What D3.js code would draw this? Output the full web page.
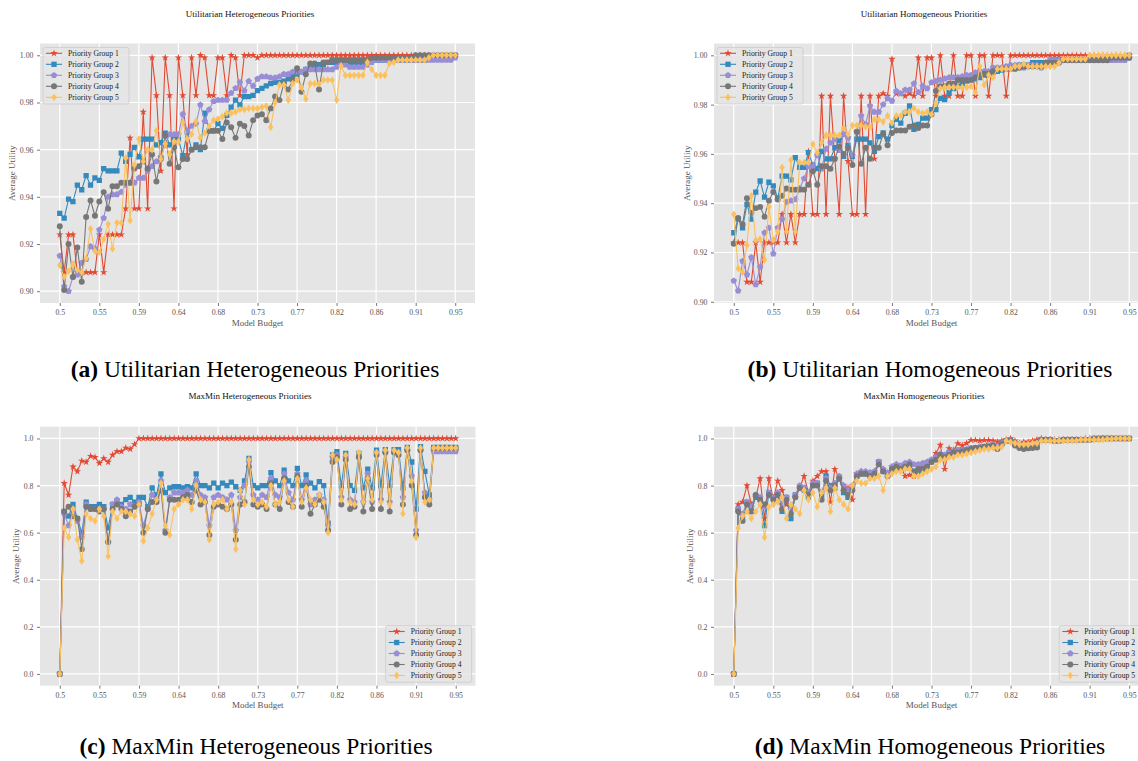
<!DOCTYPE html>
<html><head><meta charset="utf-8">
<script src="https://cdn.jsdelivr.net/npm/d3@7"></script>
<style>
body{margin:0;background:#fff;}
svg{display:block;font-family:"Liberation Serif","DejaVu Serif",serif;}
</style>
</head><body>
<svg id="chart" width="1138" height="761"></svg>
<script>
// ---------- data ----------
const budgets = d3.range(91).map(i => +(0.5 + i * 0.005).toFixed(3));
const groupNames = ["Priority Group 1","Priority Group 2","Priority Group 3","Priority Group 4","Priority Group 5"];
const xTickValues = [0.5,0.545,0.59,0.635,0.68,0.725,0.77,0.815,0.86,0.905,0.95];
const xTickLabels = ["0.5","0.55","0.59","0.64","0.68","0.73","0.77","0.82","0.86","0.91","0.95"];
const utilTicks = [0.90,0.92,0.94,0.96,0.98,1.00];
const maxminTicks = [0.0,0.2,0.4,0.6,0.8,1.0];

const utilHetG1 = [0.924,0.908,0.924,0.924,0.908,0.908,0.908,0.908,0.908,0.924,
 0.908,0.924,0.924,0.924,0.924,0.935,0.965,0.935,0.935,0.976,
 0.935,0.999,0.983,0.951,0.999,0.983,0.935,0.999,0.983,0.958,
 0.999,0.983,1.000,0.999,0.983,0.983,0.999,0.999,0.983,1.000,
 0.999,0.983,1.000,1.000,1.000,0.999,1.000,1.000,1.000,1.000,
 1,1,1,1,1,1,1,1,1,1, 1,1,1,1,1,1,1,1,1,1, 1,1,1,1,1,1,1,1,1,1, 1,1,1,1,1,1,1,1,1,1, 1];
const utilHetG2 = [0.933,0.931,0.939,0.938,0.945,0.943,0.949,0.945,0.948,0.947,
 0.952,0.951,0.951,0.951,0.9585,0.955,0.958,0.961,0.957,0.9645,
 0.9645,0.9645,0.962,0.963,0.967,0.962,0.9645,0.9645,0.9575,0.9675,
 0.960,0.962,0.960,0.9755,0.968,0.968,0.971,0.969,0.9745,0.978,
 0.981,0.979,0.9825,0.9825,0.983,0.985,0.986,0.987,0.988,0.9885,
 0.9885,0.989,0.990,0.991,0.992,0.993,0.994,0.995,0.995,0.996,
 0.996,0.997,0.997,0.997,0.997,0.997,0.997,0.997,0.997,0.997,
 0.997,0.998,0.998,0.998,0.998,0.998,0.998,0.998,0.998,0.998,
 0.998,0.998,0.998,0.998,0.999,0.999,0.999,0.999,0.999,0.999,
 1.000];
const utilHetG3 = [0.915,0.902,0.900,0.906,0.907,0.912,0.9135,0.919,0.918,0.926,
 0.931,0.940,0.941,0.941,0.942,0.945,0.946,0.946,0.948,0.948,
 0.951,0.953,0.955,0.957,0.962,0.9665,0.9665,0.9665,0.975,0.968,
 0.970,0.971,0.979,0.972,0.977,0.9805,0.981,0.981,0.981,0.984,
 0.986,0.9885,0.985,0.989,0.987,0.990,0.991,0.991,0.9905,0.9905,
 0.991,0.992,0.992,0.993,0.993,0.993,0.994,0.994,0.994,0.994,
 0.994,0.994,0.994,0.995,0.996,0.996,0.995,0.995,0.995,0.995,
 0.996,0.997,0.998,0.998,0.998,0.998,0.998,0.998,0.998,0.998,
 0.998,0.998,0.998,0.998,0.998,0.998,0.998,0.998,0.998,0.998,
 0.999];
const utilHetG4 = [0.9275,0.9005,0.920,0.906,0.9185,0.904,0.9315,0.9385,0.932,0.938,
 0.942,0.935,0.9445,0.9445,0.946,0.946,0.946,0.952,0.953,0.955,
 0.952,0.958,0.9465,0.956,0.966,0.954,0.961,0.9525,0.956,0.956,
 0.960,0.961,0.961,0.961,0.968,0.968,0.968,0.9645,0.9715,0.9695,
 0.965,0.971,0.970,0.966,0.9725,0.9745,0.975,0.9725,0.9775,0.9825,
 0.981,0.988,0.9855,0.9895,0.9945,0.9845,0.992,0.9965,0.9965,0.9855,
 0.997,0.997,0.998,0.998,0.998,0.998,0.998,0.998,0.998,0.998,
 0.998,0.999,0.999,0.999,0.999,0.999,0.999,0.999,0.999,0.999,
 0.999,1.000,1.000,1.000,1.000,1.000,1.000,1.000,1.000,1.000,
 1.000];
const utilHetG5 = [0.911,0.906,0.9085,0.9115,0.909,0.908,0.914,0.9265,0.917,0.9165,
 0.922,0.9285,0.918,0.929,0.929,0.9565,0.930,0.9535,0.9645,0.955,
 0.960,0.960,0.968,0.956,0.9625,0.958,0.9635,0.9635,0.9715,0.9645,
 0.9665,0.972,0.965,0.967,0.970,0.9725,0.973,0.974,0.9755,0.9755,
 0.976,0.977,0.977,0.9775,0.9775,0.9775,0.978,0.9785,0.9695,0.980,
 0.9875,0.9875,0.981,0.988,0.9895,0.9865,0.9815,0.988,0.988,0.988,
 0.9895,0.9895,0.9895,0.981,0.9955,0.9915,0.9915,0.9915,0.9915,0.9915,
 0.997,0.994,0.9915,0.9915,0.9915,0.9965,0.997,0.998,0.998,0.998,
 0.998,0.998,0.998,0.998,0.999,1.000,1.000,1.000,1.000,1.000,
 1.000];

const utilHomG1 = [0.924,0.924,0.924,0.908,0.908,0.924,0.908,0.924,0.924,0.924,
 0.924,0.9355,0.924,0.9355,0.924,0.9355,0.9355,0.961,0.9355,0.9355,
 0.9835,0.9355,0.9835,0.958,0.9355,0.9835,0.957,0.9355,0.9355,0.9835,
 0.9355,0.9835,0.958,0.9835,0.9845,0.9835,0.9985,0.9845,0.9845,0.9835,
 0.9845,0.9835,0.999,0.9835,0.999,0.999,0.9835,1.000,0.9835,0.9835,
 1.000,0.9835,0.9835,1.000,1.000,0.9835,1.000,1.000,0.9835,1.000,
 1.000,1.000,0.9835,1.000,1.000,1.000,1.000,1.000,1.000,1.000,
 1,1,1,1,1,1,1,1,1,1, 1,1,1,1,1,1,1,1,1,1, 1];
const utilHomG2 = [0.928,0.9335,0.930,0.9395,0.9335,0.9445,0.949,0.9425,0.9485,0.947,
 0.942,0.951,0.951,0.9495,0.9585,0.9545,0.9545,0.9605,0.9555,0.954,
 0.961,0.958,0.958,0.9625,0.9655,0.959,0.9635,0.959,0.966,0.966,
 0.966,0.9645,0.961,0.967,0.9685,0.966,0.9715,0.974,0.9725,0.9765,
 0.9795,0.970,0.972,0.9745,0.9745,0.978,0.978,0.9825,0.982,0.985,
 0.9865,0.9875,0.9885,0.9895,0.990,0.9905,0.991,0.992,0.9925,0.993,
 0.9935,0.994,0.995,0.995,0.995,0.996,0.996,0.996,0.997,0.997,
 0.997,0.997,0.997,0.998,0.998,0.998,0.998,0.998,0.998,0.998,
 0.998,0.998,0.998,0.998,0.999,0.999,0.999,0.999,0.999,0.999,
 1.000];
const utilHomG3 = [0.9085,0.9045,0.9165,0.911,0.918,0.907,0.914,0.928,0.930,0.9195,
 0.930,0.9335,0.9405,0.941,0.9415,0.946,0.950,0.955,0.955,0.9595,
 0.954,0.962,0.9645,0.966,0.9615,0.968,0.9665,0.9595,0.969,0.9755,
 0.972,0.9795,0.977,0.977,0.980,0.9825,0.9815,0.9855,0.9845,0.986,
 0.986,0.9885,0.985,0.9875,0.9865,0.989,0.9895,0.990,0.9905,0.991,
 0.991,0.991,0.9915,0.992,0.992,0.993,0.9935,0.9935,0.9935,0.995,
 0.995,0.995,0.9955,0.996,0.996,0.996,0.995,0.996,0.996,0.996,
 0.995,0.997,0.998,0.998,0.998,0.998,0.998,0.998,0.998,0.998,
 0.998,0.998,0.998,0.998,0.998,0.998,0.998,0.998,0.998,0.998,
 0.999];
const utilHomG4 = [0.9235,0.934,0.9315,0.942,0.936,0.938,0.9385,0.9345,0.941,0.9445,
 0.9415,0.943,0.946,0.9455,0.9455,0.9455,0.9455,0.9475,0.953,0.9475,
 0.955,0.955,0.954,0.958,0.963,0.960,0.9625,0.9555,0.969,0.956,
 0.9625,0.958,0.9625,0.9625,0.968,0.9635,0.9685,0.9695,0.9695,0.9695,
 0.971,0.9715,0.9705,0.9715,0.9715,0.976,0.9855,0.9875,0.9875,0.9885,
 0.9885,0.990,0.990,0.990,0.990,0.991,0.992,0.9925,0.9925,0.9935,
 0.9945,0.9945,0.9945,0.9945,0.9945,0.995,0.9955,0.9955,0.9955,0.9955,
 0.9955,0.997,0.997,0.997,0.997,0.998,0.998,0.998,0.998,0.998,
 0.998,0.998,0.998,0.998,0.998,0.998,0.999,0.999,0.999,0.999,
 0.999];
const utilHomG5 = [0.9355,0.9135,0.912,0.923,0.943,0.925,0.9255,0.917,0.9385,0.925,
 0.9285,0.9545,0.9285,0.9575,0.9285,0.9565,0.9565,0.9565,0.964,0.9605,
 0.9645,0.9675,0.9675,0.9675,0.9675,0.9705,0.968,0.9715,0.9715,0.9715,
 0.971,0.971,0.974,0.974,0.973,0.9755,0.9725,0.9755,0.9755,0.977,
 0.977,0.9785,0.977,0.9765,0.977,0.976,0.9805,0.9865,0.987,0.987,
 0.987,0.987,0.987,0.987,0.9875,0.985,0.9955,0.988,0.992,0.991,
 0.9945,0.9945,0.9945,0.9945,0.9955,0.9955,0.9965,0.9955,0.9955,0.9955,
 0.9955,0.9955,0.9955,0.9955,0.997,0.9985,0.9985,0.9985,0.9985,0.9985,
 0.9985,1.000,1.000,1.000,1.000,1.000,1.000,1.000,1.000,1.000,
 1.000];

const maxHetG1 = [0,0.81,0.76,0.88,0.86,0.905,0.90,0.925,0.92,0.895,
 0.915,0.90,0.93,0.945,0.945,0.96,0.955,0.975,1,1,
 1,1,1,1,1,1,1,1,1,1, 1,1,1,1,1,1,1,1,1,1, 1,1,1,1,1,1,1,1,1,1,
 1,1,1,1,1,1,1,1,1,1, 1,1,1,1,1,1,1,1,1,1, 1,1,1,1,1,1,1,1,1,1,
 1,1,1,1,1,1,1,1,1,1, 1];
const maxHetG2 = [0,0.69,0.67,0.72,0.66,0.60,0.73,0.71,0.71,0.72,
 0.71,0.62,0.72,0.73,0.72,0.74,0.75,0.73,0.75,0.75,
 0.71,0.79,0.76,0.85,0.77,0.79,0.795,0.795,0.79,0.795,
 0.79,0.85,0.80,0.80,0.79,0.81,0.79,0.81,0.80,0.815,
 0.795,0.78,0.82,0.915,0.80,0.79,0.80,0.80,0.855,0.82,
 0.80,0.866,0.82,0.80,0.873,0.80,0.845,0.81,0.79,0.817,
 0.80,0.64,0.93,0.944,0.80,0.937,0.80,0.78,0.937,0.79,
 0.87,0.79,0.95,0.80,0.953,0.80,0.953,0.953,0.79,0.962,
 0.90,0.70,0.965,0.86,0.76,0.962,0.962,0.962,0.962,0.962,
 0.962];
const maxHetG3 = [0,0.68,0.63,0.70,0.65,0.58,0.72,0.70,0.70,0.70,
 0.70,0.56,0.72,0.74,0.71,0.70,0.72,0.71,0.73,0.63,
 0.70,0.76,0.74,0.82,0.61,0.75,0.77,0.77,0.77,0.78,
 0.76,0.82,0.76,0.75,0.63,0.75,0.76,0.75,0.74,0.76,
 0.61,0.75,0.80,0.90,0.76,0.74,0.76,0.75,0.83,0.76,
 0.75,0.85,0.77,0.74,0.85,0.74,0.82,0.72,0.74,0.76,
 0.74,0.63,0.92,0.93,0.75,0.92,0.74,0.73,0.92,0.73,
 0.85,0.73,0.94,0.74,0.94,0.73,0.94,0.94,0.75,0.95,
 0.84,0.61,0.95,0.77,0.74,0.945,0.945,0.945,0.945,0.945,
 0.945];
const maxHetG4 = [0,0.69,0.71,0.67,0.66,0.53,0.71,0.70,0.70,0.69,
 0.70,0.56,0.70,0.72,0.70,0.67,0.69,0.71,0.72,0.60,
 0.70,0.73,0.73,0.78,0.60,0.74,0.74,0.74,0.75,0.76,
 0.73,0.78,0.72,0.73,0.59,0.71,0.72,0.71,0.70,0.72,
 0.57,0.72,0.73,0.88,0.72,0.71,0.72,0.70,0.81,0.72,
 0.70,0.83,0.73,0.71,0.84,0.71,0.80,0.68,0.72,0.74,
 0.71,0.61,0.90,0.92,0.72,0.91,0.70,0.71,0.92,0.69,
 0.83,0.70,0.93,0.70,0.94,0.69,0.94,0.93,0.72,0.95,
 0.80,0.59,0.95,0.75,0.72,0.96,0.96,0.96,0.96,0.96,
 0.96];
const maxHetG5 = [0,0.62,0.58,0.70,0.57,0.48,0.68,0.66,0.65,0.70,
 0.67,0.50,0.69,0.66,0.69,0.69,0.68,0.67,0.72,0.565,
 0.62,0.68,0.74,0.81,0.63,0.59,0.70,0.72,0.74,0.74,
 0.70,0.80,0.74,0.73,0.57,0.72,0.73,0.74,0.70,0.73,
 0.53,0.78,0.72,0.91,0.74,0.72,0.73,0.71,0.80,0.72,
 0.73,0.82,0.74,0.71,0.83,0.73,0.79,0.74,0.72,0.76,
 0.73,0.60,0.93,0.91,0.74,0.93,0.73,0.72,0.94,0.73,
 0.83,0.74,0.94,0.73,0.95,0.72,0.95,0.94,0.68,0.96,
 0.82,0.58,0.96,0.73,0.74,0.96,0.96,0.96,0.96,0.96,
 0.96];

const maxHomG1 = [0,0.72,0.73,0.80,0.72,0.75,0.83,0.66,0.83,0.74,
 0.82,0.78,0.72,0.70,0.75,0.79,0.84,0.77,0.82,0.84,
 0.86,0.86,0.73,0.87,0.83,0.80,0.79,0.74,0.85,0.86,
 0.855,0.855,0.86,0.90,0.87,0.85,0.88,0.89,0.88,0.84,
 0.845,0.84,0.85,0.88,0.90,0.90,0.937,0.972,0.87,0.958,
 0.95,0.979,0.97,0.98,0.993,0.993,0.99,0.993,0.993,0.99,
 0.986,0.99,0.995,1.0,0.99,0.98,0.985,0.985,0.99,0.995,
 1.0,0.995,0.995,0.995,0.995,0.995,0.995,0.995,0.995,0.995,
 1,1,1,1,1,1,1,1,1,1, 1];
const maxHomG2 = [0,0.70,0.66,0.73,0.70,0.75,0.74,0.63,0.77,0.75,
 0.76,0.69,0.75,0.66,0.76,0.79,0.79,0.75,0.80,0.81,
 0.76,0.84,0.80,0.79,0.83,0.77,0.75,0.79,0.84,0.85,
 0.85,0.845,0.855,0.90,0.86,0.845,0.87,0.875,0.87,0.875,
 0.885,0.86,0.865,0.87,0.89,0.905,0.92,0.93,0.93,0.94,
 0.945,0.95,0.95,0.95,0.955,0.96,0.96,0.965,0.97,0.97,
 0.96,0.98,0.99,0.99,0.975,0.965,0.96,0.96,0.965,0.965,
 0.995,0.995,0.995,0.99,0.99,0.995,0.995,0.995,0.995,0.995,
 0.995,0.995,1.0,1.0,1.0,1.0,1.0,1.0,1.0,1.0,
 1.0];
const maxHomG3 = [0,0.70,0.68,0.73,0.71,0.76,0.75,0.71,0.77,0.75,
 0.77,0.72,0.75,0.70,0.76,0.80,0.79,0.77,0.81,0.81,
 0.77,0.83,0.79,0.81,0.84,0.80,0.78,0.80,0.85,0.86,
 0.86,0.855,0.86,0.90,0.87,0.855,0.88,0.89,0.885,0.895,
 0.90,0.89,0.89,0.895,0.90,0.91,0.92,0.935,0.93,0.94,
 0.945,0.95,0.95,0.955,0.96,0.96,0.965,0.965,0.97,0.975,
 0.965,0.98,0.99,0.99,0.98,0.975,0.97,0.97,0.975,0.98,
 0.995,0.995,0.995,0.99,0.99,0.995,0.995,0.995,0.995,0.995,
 0.995,0.995,1.0,1.0,1.0,1.0,1.0,1.0,1.0,1.0,
 1.0];
const maxHomG4 = [0,0.69,0.65,0.72,0.69,0.76,0.74,0.72,0.76,0.74,
 0.76,0.70,0.74,0.68,0.75,0.79,0.78,0.76,0.80,0.80,
 0.74,0.82,0.78,0.80,0.83,0.78,0.76,0.78,0.84,0.85,
 0.85,0.84,0.85,0.89,0.86,0.84,0.87,0.88,0.87,0.88,
 0.89,0.86,0.87,0.87,0.88,0.90,0.91,0.93,0.92,0.93,
 0.94,0.94,0.945,0.95,0.955,0.96,0.96,0.965,0.965,0.97,
 0.955,0.975,0.99,0.99,0.97,0.96,0.955,0.958,0.96,0.962,
 0.995,0.995,0.995,0.99,0.99,0.995,0.995,0.995,0.995,0.995,
 0.995,0.995,0.998,0.998,1.0,1.0,1.0,1.0,1.0,1.0,
 1.0];
const maxHomG5 = [0,0.62,0.67,0.69,0.66,0.69,0.72,0.58,0.71,0.72,
 0.73,0.75,0.66,0.72,0.70,0.68,0.78,0.74,0.77,0.71,
 0.77,0.79,0.69,0.79,0.74,0.72,0.70,0.80,0.82,0.81,
 0.81,0.83,0.83,0.84,0.78,0.84,0.85,0.86,0.86,0.87,
 0.87,0.84,0.84,0.85,0.86,0.87,0.88,0.91,0.91,0.92,
 0.92,0.93,0.93,0.935,0.94,0.945,0.95,0.955,0.955,0.96,
 0.96,0.965,0.99,0.985,0.98,0.975,0.975,0.975,0.98,0.98,
 0.99,0.99,0.99,0.99,0.99,0.99,0.99,0.99,0.99,0.995,
 0.995,0.995,0.995,0.995,0.995,0.998,0.998,1.0,1.0,1.0,
 1.0];

// ---------- style ----------
const colors = ["#E24A33","#348ABD","#988ED5","#777777","#FBC15E"];
const FONT = '"Liberation Serif","DejaVu Serif",serif';

function pentagonPath(r){
  const pts = d3.range(5).map(k => {
    const a = -Math.PI/2 + k*2*Math.PI/5;
    return [(r*Math.cos(a)).toFixed(2), (r*Math.sin(a)).toFixed(2)];
  });
  return "M" + pts.map(p => p.join(",")).join("L") + "Z";
}
function diamondPath(w,h){ return `M0,${-h}L${w},0L0,${h}L${-w},0Z`; }
const markerPaths = [
  d3.symbol(d3.symbolStar, 17)(),
  d3.symbol(d3.symbolSquare, 28)(),
  pentagonPath(3.4),
  d3.symbol(d3.symbolCircle, 28)(),
  diamondPath(2.7, 3.8)
];

const panels = [
  {title:"Utilitarian Heterogeneous Priorities", letter:"(a)", caption:" Utilitarian Heterogeneous Priorities",
   series:[utilHetG1,utilHetG2,utilHetG3,utilHetG4,utilHetG5],
   yDomain:[0.895,1.005], yTicks:utilTicks, yFmt:d3.format(".2f"),
   x0:40, x1:475, y0:43.5, y1:303, titleX:250, titleY:14, ylabX:11.7,
   legX:43, legY:47.5, capX:255, capY:369},
  {title:"Utilitarian Homogeneous Priorities", letter:"(b)", caption:" Utilitarian Homogeneous Priorities",
   series:[utilHomG1,utilHomG2,utilHomG3,utilHomG4,utilHomG5],
   yDomain:[0.8995,1.0048], yTicks:utilTicks, yFmt:d3.format(".2f"),
   x0:714, x1:1149, y0:43.5, y1:303, titleX:924, titleY:14, ylabX:686.5,
   legX:717, legY:47.5, capX:930, capY:369},
  {title:"MaxMin Heterogeneous Priorities", letter:"(c)", caption:" MaxMin Heterogeneous Priorities",
   series:[maxHetG1,maxHetG2,maxHetG3,maxHetG4,maxHetG5],
   yDomain:[-0.05,1.05], yTicks:maxminTicks, yFmt:d3.format(".1f"),
   x0:40, x1:475.5, y0:426.7, y1:685.7, titleX:250, titleY:396, ylabX:16,
   legX:385.7, legY:625.7, capX:256, capY:746},
  {title:"MaxMin Homogeneous Priorities", letter:"(d)", caption:" MaxMin Homogeneous Priorities",
   series:[maxHomG1,maxHomG2,maxHomG3,maxHomG4,maxHomG5],
   yDomain:[-0.05,1.05], yTicks:maxminTicks, yFmt:d3.format(".1f"),
   x0:714, x1:1149, y0:426.7, y1:685.7, titleX:924, titleY:396, ylabX:690,
   legX:1059.3, legY:625.7, capX:930, capY:746}
];

const svg = d3.select("#chart");

function drawPanel(p, pi){
  const x = d3.scaleLinear().domain([0.4775, 0.9725]).range([p.x0, p.x1]);
  const y = d3.scaleLinear().domain(p.yDomain).range([p.y1, p.y0]);
  const g = svg.append("g");

  g.append("rect").attr("x",p.x0).attr("y",p.y0).attr("width",p.x1-p.x0).attr("height",p.y1-p.y0).attr("fill","#E5E5E5");

  g.append("g").selectAll("line").data(xTickValues).join("line")
    .attr("x1",d=>x(d)).attr("x2",d=>x(d)).attr("y1",p.y0).attr("y2",p.y1)
    .attr("stroke","#fff").attr("stroke-width",1.2);
  g.append("g").selectAll("line").data(p.yTicks).join("line")
    .attr("x1",p.x0).attr("x2",p.x1).attr("y1",d=>y(d)).attr("y2",d=>y(d))
    .attr("stroke","#fff").attr("stroke-width",1.2);

  const styleAxis = a => {
    a.attr("font-family", FONT).attr("font-size", null);
    a.select(".domain").remove();
    a.selectAll(".tick line").attr("stroke","#555").attr("stroke-width",0.8);
    a.selectAll(".tick text").attr("fill","#555").style("font-size","7.8px");
  };
  g.append("g").attr("transform",`translate(0,${p.y1})`)
    .call(d3.axisBottom(x).tickValues(xTickValues).tickFormat((d,i)=>xTickLabels[i]).tickSize(3).tickPadding(3.5))
    .call(styleAxis);
  g.append("g").attr("transform",`translate(${p.x0},0)`)
    .call(d3.axisLeft(y).tickValues(p.yTicks).tickFormat(p.yFmt).tickSize(3).tickPadding(3.5))
    .call(styleAxis);

  const clipId = "clip" + pi;
  svg.append("clipPath").attr("id",clipId).append("rect")
    .attr("x",p.x0).attr("y",p.y0).attr("width",p.x1-p.x0).attr("height",p.y1-p.y0);
  const plot = g.append("g").attr("clip-path",`url(#${clipId})`);
  const line = d3.line().x(d=>x(d[0])).y(d=>y(d[1]));
  p.series.forEach((vals,k) => {
    const pts = budgets.map((b,i) => [b, vals[i]]);
    plot.append("path").datum(pts).attr("d",line).attr("fill","none")
      .attr("stroke",colors[k]).attr("stroke-width",1.1);
    plot.append("g").selectAll("path").data(pts).join("path")
      .attr("transform",d=>`translate(${x(d[0])},${y(d[1])})`)
      .attr("d",markerPaths[k]).attr("fill",colors[k]);
  });

  // title
  g.append("text").attr("x",p.titleX).attr("y",p.titleY).attr("text-anchor","middle")
    .attr("dominant-baseline","central").attr("font-family",FONT).attr("font-size","9px")
    .attr("fill","#111").text(p.title);
  // axis labels
  g.append("text").attr("x",(p.x0+p.x1)/2).attr("y",p.y1+19.5).attr("text-anchor","middle")
    .attr("dominant-baseline","central").attr("font-family",FONT).attr("font-size","9px")
    .attr("fill","#555").text("Model Budget");
  g.append("text").attr("transform",`translate(${p.ylabX},${(p.y0+p.y1)/2}) rotate(-90)`)
    .attr("text-anchor","middle").attr("dominant-baseline","central")
    .attr("font-family",FONT).attr("font-size","9px").attr("fill","#555").text("Average Utility");

  // legend
  const lg = g.append("g").attr("transform",`translate(${p.legX},${p.legY})`);
  lg.append("rect").attr("width",86).attr("height",56.5).attr("rx",2)
    .attr("fill","#E5E5E5").attr("fill-opacity",0.8).attr("stroke","#CCCCCC").attr("stroke-width",0.8);
  groupNames.forEach((name,k) => {
    const yy = 5.8 + 11*k;
    lg.append("line").attr("x1",3).attr("x2",19).attr("y1",yy).attr("y2",yy)
      .attr("stroke",colors[k]).attr("stroke-width",1.1);
    lg.append("path").attr("transform",`translate(11,${yy})`).attr("d",markerPaths[k]).attr("fill",colors[k]);
    lg.append("text").attr("x",25).attr("y",yy).attr("dominant-baseline","central")
      .attr("font-family",FONT).attr("font-size","7.7px").attr("fill","#222").text(name);
  });

  // caption
  const cap = svg.append("text").attr("x",p.capX).attr("y",p.capY).attr("text-anchor","middle")
    .attr("dominant-baseline","central").attr("font-family",FONT).attr("font-size","23.5px").attr("fill","#000");
  cap.append("tspan").attr("font-weight","bold").text(p.letter);
  cap.append("tspan").text(p.caption);
}

panels.forEach(drawPanel);
</script>
</body></html>
